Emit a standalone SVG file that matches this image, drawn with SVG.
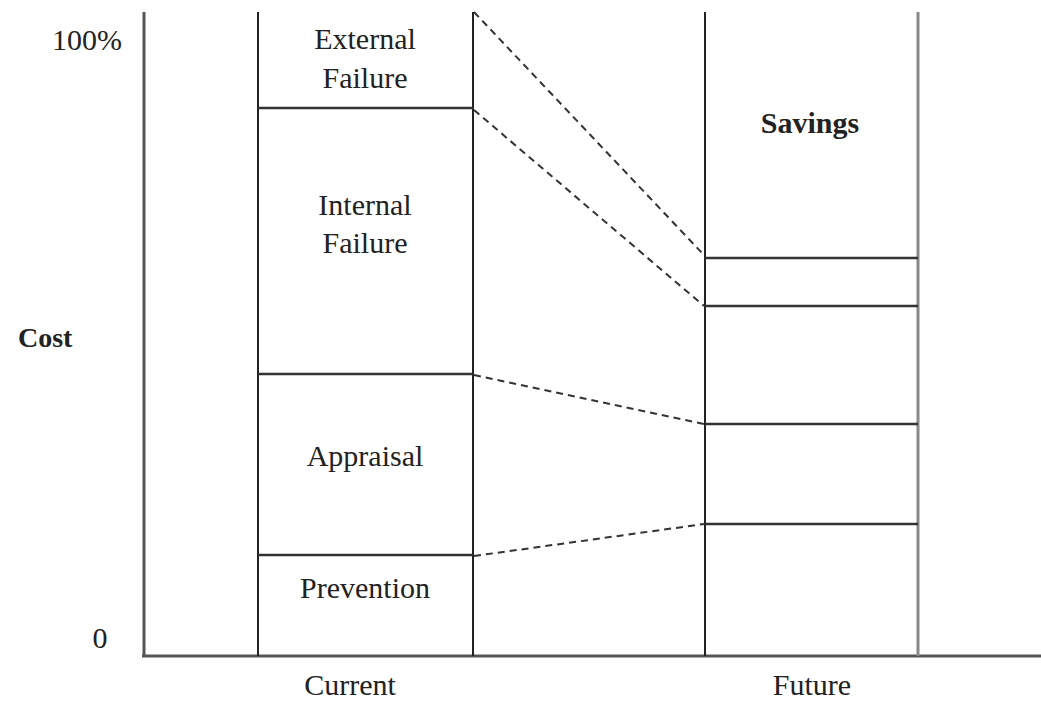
<svg xmlns="http://www.w3.org/2000/svg" width="1041" height="704" viewBox="0 0 1041 704">
<style>
.ax{stroke:#555;stroke-width:3;fill:none}
.bar{stroke:#222;stroke-width:2;fill:none}
.barg{stroke:#888;stroke-width:3;fill:none}
.div{stroke:#333;stroke-width:2.5}
.dash{stroke:#333;stroke-width:2;stroke-dasharray:7 5;fill:none}
text{font-family:"Liberation Serif","Times New Roman",serif;font-size:30px;fill:#222}
.c{text-anchor:middle}
.b{font-weight:bold}
</style>
<rect width="1041" height="704" fill="#fff"/>
<g id="axes">
<line class="ax" x1="144" y1="12" x2="144" y2="656"/>
<line class="ax" x1="142" y1="656" x2="1041" y2="656"/>
<text x="122" y="50" text-anchor="end">100%</text>
<text x="100" y="648" text-anchor="middle">0</text>
<text x="18" y="347" class="b" style="font-size:28px">Cost</text>
<text x="350" y="695" class="c">Current</text>
<text x="812" y="695" class="c">Future</text>
</g>
<g id="current">
<line class="bar" x1="258" y1="12" x2="258" y2="656"/>
<line class="bar" x1="473" y1="12" x2="473" y2="656"/>
<line class="div" x1="258" y1="108" x2="473" y2="108"/>
<line class="div" x1="258" y1="374" x2="473" y2="374"/>
<line class="div" x1="258" y1="555" x2="473" y2="555"/>
</g>
<g id="external-failure"><text x="365" y="49" class="c">External</text><text x="365" y="88" class="c">Failure</text></g>
<g id="internal-failure"><text x="365" y="215" class="c">Internal</text><text x="365" y="253" class="c">Failure</text></g>
<g id="appraisal"><text x="365" y="466" class="c">Appraisal</text></g>
<g id="prevention"><text x="365" y="598" class="c">Prevention</text></g>
<g id="future">
<line class="bar" x1="705" y1="12" x2="705" y2="656"/>
<line class="barg" x1="918" y1="12" x2="918" y2="656"/>
<line class="div" x1="705" y1="258" x2="918" y2="258"/>
<line class="div" x1="705" y1="306" x2="918" y2="306"/>
<line class="div" x1="705" y1="424" x2="918" y2="424"/>
<line class="div" x1="705" y1="524" x2="918" y2="524"/>
</g>
<g id="savings"><text x="810" y="133" class="c b">Savings</text></g>
<g id="connectors">
<line class="dash" x1="474" y1="12" x2="703" y2="254"/>
<line class="dash" x1="474" y1="110" x2="704" y2="306"/>
<line class="dash" x1="474" y1="375" x2="704" y2="424"/>
<line class="dash" x1="474" y1="556" x2="704" y2="524"/>
</g>
</svg>
